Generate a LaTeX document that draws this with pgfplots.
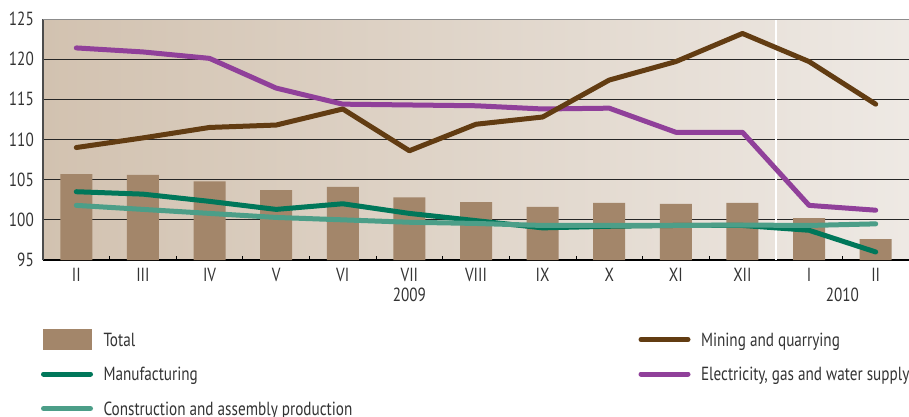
\documentclass[border=0pt]{standalone}
\usepackage{pgfplots}
\pgfplotsset{compat=1.18}
\usepackage{fontspec}
\setmainfont{PT Sans}[FakeStretch=0.8]
\definecolor{barc}{HTML}{A3866A}
\definecolor{minec}{HTML}{623C12}
\definecolor{elecc}{HTML}{90409A}
\definecolor{manc}{HTML}{00775A}
\definecolor{conc}{HTML}{4C9E88}
\definecolor{bgl}{HTML}{D2C2B0}
\definecolor{bgr}{HTML}{EEE9E4}
\definecolor{labc}{HTML}{333333}
\newcommand{\lf}{\fontsize{19}{22}\selectfont}
\begin{document}
\begin{tikzpicture}
\begin{axis}[
  scale only axis, width=866pt, height=241pt,
  xmin=-0.5, xmax=12.5, ymin=95, ymax=125,
  axis x line=bottom, axis y line=left,
  x axis line style={-, black, line width=1.3pt},
  y axis line style={-, black!70, line width=1.3pt},
  axis background/.style={left color=bgl, right color=bgr},
  xtick={0,...,12},
  xticklabels={II,III,IV,V,VI,VII,VIII,IX,X,XI,XII,I,II},
  major x tick style={draw=none},
  minor xtick={-0.5,0.5,...,12.5},
  minor x tick style={black, line width=0.8pt},
  minor tick length=4pt,
  tick align=inside,
  ytick={95,100,...,120},
  extra y ticks={125},
  extra y tick style={major grid style={draw=black!45, line width=1pt}},
  ytick style={draw=none},
  ymajorgrids,
  major grid style={draw=black!85, line width=0.8pt},
  extra x ticks={10.5},
  extra x tick labels={},
  extra x tick style={xmajorgrids=true, major grid style={draw=white, line width=1.5pt}, major tick length=0pt},
  /pgf/number format/assume math mode=true,
  xticklabel style={font=\lf, text=labc, anchor=base, inner sep=0pt, yshift=-21pt},
  yticklabel style={font=\lf, text=labc, anchor=base east, inner sep=0pt, xshift=-9pt, yshift=-6.6pt},
  clip=false,
  legend style={at={(-0.00231,-0.28631)}, anchor=north west, draw=none, fill=none,
    inner sep=0pt, outer sep=0pt, font=\lf, text=labc,
    nodes={inner sep=0pt, text height=17pt, text depth=4pt},
    row sep=13.5pt,
    /tikz/every odd column/.append style={column sep=10.5pt}},
  legend columns=2,
  legend cell align=left,
]
\addplot[ybar, bar width=32pt, fill=barc, draw=none, forget plot] coordinates {
(0,105.7) (1,105.6) (2,104.8) (3,103.7) (4,104.1) (5,102.8) (6,102.2)
(7,101.6) (8,102.1) (9,102.0) (10,102.1) (11,100.2) (12,97.6)};
\addplot[manc, line width=5pt, line join=round, line cap=round, forget plot] coordinates {
(0,103.5) (1,103.2) (2,102.3) (3,101.3) (4,102.0) (5,100.8) (6,99.9)
(7,99.0) (8,99.2) (9,99.3) (10,99.3) (11,98.7) (12,96.0)};
\addplot[conc, line width=5pt, line join=round, line cap=round, forget plot] coordinates {
(0,101.8) (1,101.3) (2,100.8) (3,100.3) (4,100.0) (5,99.7) (6,99.55)
(7,99.3) (8,99.3) (9,99.3) (10,99.35) (11,99.3) (12,99.5)};
\addplot[elecc, line width=5pt, line join=round, line cap=round, forget plot] coordinates {
(0,121.4) (1,120.9) (2,120.1) (3,116.4) (4,114.4) (5,114.3) (6,114.2)
(7,113.8) (8,113.9) (9,110.9) (10,110.9) (11,101.8) (12,101.2)};
\addplot[minec, line width=5pt, line join=round, line cap=round, forget plot] coordinates {
(0,109.0) (1,110.2) (2,111.5) (3,111.8) (4,113.8) (5,108.6) (6,111.9)
(7,112.8) (8,117.4) (9,119.7) (10,123.2) (11,119.7) (12,114.4)};
\node[anchor=base, font=\lf, text=labc, inner sep=0pt] at (axis cs:5,95) [yshift=-41pt] {2009};
\node[anchor=base, font=\lf, text=labc, inner sep=0pt] at (axis cs:11.5,95) [yshift=-41pt] {2010};
\addlegendimage{legend image code/.code={\path[draw=none,fill=none] (0pt,-10.5pt) rectangle (52pt,10.5pt); \fill[barc, draw=none] (1.5pt,-10.5pt) rectangle (50.5pt,10.5pt);}}
\addlegendentry{\makebox[535pt][l]{Total}}
\addlegendimage{legend image code/.code={\path[draw=none,fill=none] (0pt,-10.5pt) rectangle (52pt,10.5pt); \draw[minec, line width=5pt, line cap=round] (2.5pt,0pt) -- (49.5pt,0pt);}}
\addlegendentry{Mining and quarrying}
\addlegendimage{legend image code/.code={\path[draw=none,fill=none] (0pt,-10.5pt) rectangle (52pt,10.5pt); \draw[manc, line width=5pt, line cap=round] (2.5pt,0pt) -- (49.5pt,0pt);}}
\addlegendentry{\makebox[535pt][l]{Manufacturing}}
\addlegendimage{legend image code/.code={\path[draw=none,fill=none] (0pt,-10.5pt) rectangle (52pt,10.5pt); \draw[elecc, line width=5pt, line cap=round] (2.5pt,0pt) -- (49.5pt,0pt);}}
\addlegendentry{Electricity, gas and water supply}
\addlegendimage{legend image code/.code={\path[draw=none,fill=none] (0pt,-10.5pt) rectangle (52pt,10.5pt); \draw[conc, line width=5pt, line cap=round] (2.5pt,0pt) -- (49.5pt,0pt);}}
\addlegendentry{\makebox[535pt][l]{Construction and assembly production}}
\end{axis}
\pgfresetboundingbox
\path[use as bounding box] (-43pt,-156pt) rectangle (866pt,260pt);
\end{tikzpicture}
\end{document}
